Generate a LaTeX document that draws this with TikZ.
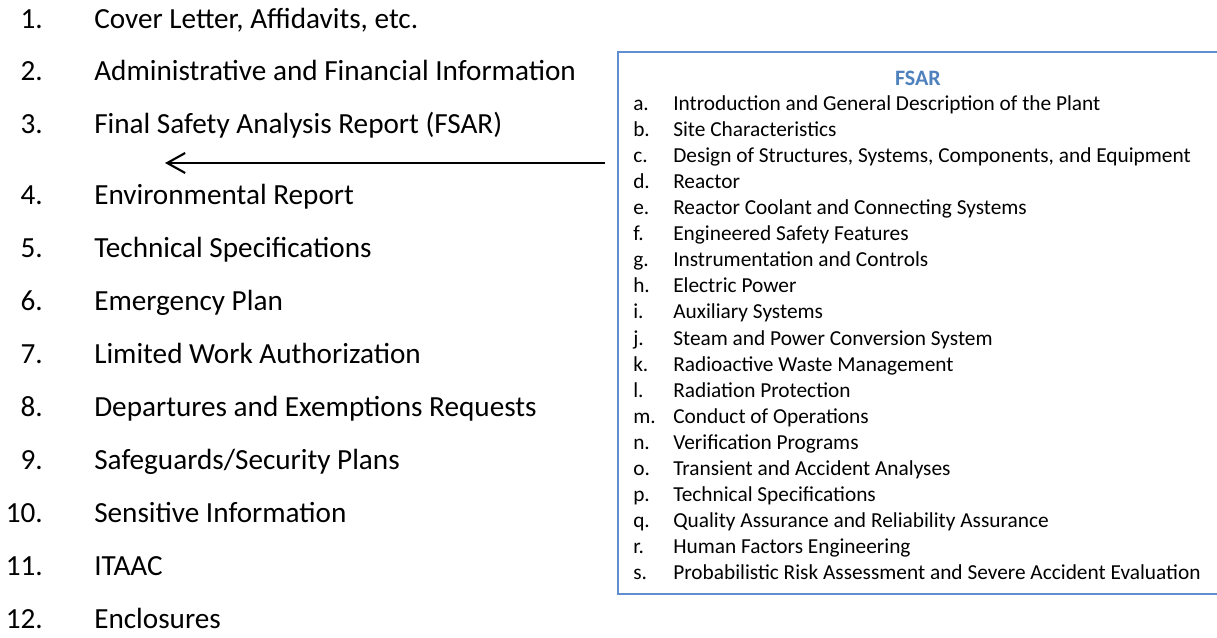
\documentclass[tikz,border=0pt]{standalone}
\usepackage{fontspec}
\setmainfont{Carlito}
\usepackage{xcolor}
\usetikzlibrary{arrows.meta,positioning}
\definecolor{fsarblue}{RGB}{79,129,189}
\definecolor{boxblue}{RGB}{96,142,208}

\begin{document}
\begin{tikzpicture}[x=0.75pt, y=-0.75pt, inner sep=0pt,
    itemnum/.style={anchor=mid east, font=\fontsize{21.9}{26}\selectfont},
    itemtext/.style={anchor=mid west, font=\fontsize{21.9}{26}\selectfont},
    partnum/.style={anchor=mid west, font=\fontsize{16}{19}\selectfont},
    parttext/.style={anchor=mid west, font=\fontsize{16}{19}\selectfont}]
    \useasboundingbox (0,0) rectangle (1217,638);

    % application parts
    \foreach \n/\y/\t in {1/25/{Cover Letter, Affidavits, etc.},
        2/77/Administrative and Financial Information,
        3/130/Final Safety Analysis Report (FSAR),
        4/201/Environmental Report,
        5/254/Technical Specifications,
        6/307/Emergency Plan,
        7/360/Limited Work Authorization,
        8/413/Departures and Exemptions Requests,
        9/466/{Safeguards/Security Plans},
        10/519/Sensitive Information,
        11/572/ITAAC,
        12/625/Enclosures} {
        \node[itemnum] (num\n) at (43,\y) {\n.};
        \node[itemtext] (item\n) at (94,\y) {\t};
    }

    % FSAR box, its right side runs off the page
    \node[draw=boxblue, line width=1.4pt, fill=white, anchor=north west,
        minimum width=456pt, minimum height=406.5pt] (fsarbox) at (617,51) {};
    \node[font=\fontsize{16.5}{19}\selectfont\bfseries, text=fsarblue] (fsartitle) at (918,78) {FSAR};

    \foreach \l/\t [count=\i] in {a/Introduction and General Description of the Plant,
        b/Site Characteristics,
        c/{Design of Structures, Systems, Components, and Equipment},
        d/Reactor,
        e/Reactor Coolant and Connecting Systems,
        f/Engineered Safety Features,
        g/Instrumentation and Controls,
        h/Electric Power,
        i/Auxiliary Systems,
        j/Steam and Power Conversion System,
        k/Radioactive Waste Management,
        l/Radiation Protection,
        m/Conduct of Operations,
        n/Verification Programs,
        o/Transient and Accident Analyses,
        p/Technical Specifications,
        q/Quality Assurance and Reliability Assurance,
        r/Human Factors Engineering,
        s/Probabilistic Risk Assessment and Severe Accident Evaluation} {
        \node[partnum] (part\l) at (633,{107+26.1*(\i-1)}) {\l.};
        \node[parttext] (parttext\l) at (673,{107+26.1*(\i-1)}) {\t};
    }

    % arrow from the box back to item 3
    \coordinate (tail) at (605,163);
    \coordinate (tip) at (165,163);
    \draw[-{Straight Barb[length=13.5pt,width=15pt]}, line width=1.6pt] (tail) -- (tip);

\end{tikzpicture}
\end{document}
